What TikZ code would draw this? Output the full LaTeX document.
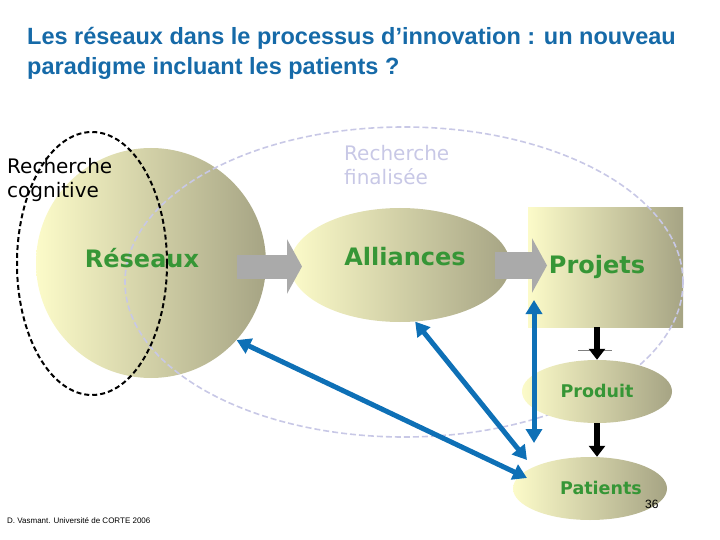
\documentclass[tikz,border=0pt]{standalone}
\usepackage{fontspec}
\setmainfont{Liberation Sans}
\newfontfamily\verdana{DejaVu Sans}
\usetikzlibrary{arrows.meta,shapes.geometric}
\definecolor{paleyellow}{RGB}{252,251,201}
\definecolor{olivegrey}{RGB}{166,164,132}
\definecolor{leafgreen}{RGB}{54,150,54}
\definecolor{titleblue}{RGB}{22,106,168}
\definecolor{linkblue}{RGB}{14,112,182}
\definecolor{lavender}{RGB}{200,200,230}
\definecolor{arrowgrey}{RGB}{170,170,170}

\begin{document}
\begin{tikzpicture}[x=1pt,y=-1pt,
    ball/.style={left color=paleyellow, right color=olivegrey, inner sep=0pt},
    bigword/.style={font=\verdana\bfseries\fontsize{24}{28}\selectfont, text=leafgreen, anchor=base, inner sep=0pt},
    smallword/.style={font=\verdana\bfseries\fontsize{17.5}{20}\selectfont, text=leafgreen, anchor=base, inner sep=0pt},
    sidenote/.style={font=\verdana\fontsize{20}{24}\selectfont, anchor=base west, align=left, inner sep=0pt},
    greyarrow/.style={arrowgrey, line width=#1, -{Triangle[length=15pt,width=54pt]}},
    linkarrow/.style={linkblue, line width=5pt, {Triangle[length=14pt,width=16pt]}-{Triangle[length=14pt,width=16pt]}},
    blackarrow/.style={black, line width=6pt, -{Triangle[length=11pt,width=16pt]}}]
            \useasboundingbox (0,0) rectangle (720,540);
            \node[ball, circle, minimum size=230pt]                      (reseaux)   at (151,263)     {};
            \node[ball, ellipse, minimum width=220pt, minimum height=114pt] (alliances) at (400,265)   {};
            \node[ball, rectangle, minimum width=155pt, minimum height=119pt] (projets) at (605.5,267.5) {};
            \draw[lavender, line width=1.6pt, dash pattern=on 6pt off 3pt] (404,282) ellipse (279 and 155);
            \node[ball, ellipse, minimum width=150pt, minimum height=63pt] (produit)  at (597,391.5)   {};
            \node[ball, ellipse, minimum width=154pt, minimum height=63pt] (patients) at (590,488.5)   {};
            \draw[black, line width=2pt, dash pattern=on 5pt off 3pt] (92,263.5) ellipse (75 and 131.5);

            \node[font=\bfseries\fontsize{23.5}{30}\selectfont, text=titleblue, anchor=base west, align=left, inner sep=0pt]
                 (titre) at (27,75) {Les réseaux dans le processus d’innovation : un nouveau\\paradigme incluant les patients ?};
            \node[sidenote]                  (cognitive) at (7,197)   {Recherche\\cognitive};
            \node[sidenote, text=lavender]   (finalisee) at (344,185) {Recherche\\finalisée};
            \node[bigword]   (t-reseaux)   at (142,267) {Réseaux};
            \node[bigword]   (t-alliances) at (405,265) {Alliances};
            \node[bigword]   (t-projets)   at (597,273) {Projets};
            \node[smallword] (t-produit)   at (597,397) {Produit};
            \node[smallword] (t-patients)  at (601,494) {Patients};
            \node[font=\fontsize{12}{14}\selectfont, anchor=base west, inner sep=0pt] (pagenum) at (645,508) {36};
            \node[font=\fontsize{8}{10}\selectfont, anchor=base west, inner sep=0pt] (credit) at (7,523) {D. Vasmant. Université de CORTE 2006};

            \coordinate (gs1) at (237,266.5);
            \coordinate (ge1) at (302,266.5);
            \coordinate (gs2) at (495,265.5);
            \coordinate (ge2) at (547,265.5);
            \draw[greyarrow=24pt] (gs1) -- (ge1);
            \draw[greyarrow=27pt] (gs2) -- (ge2);

            \coordinate (pat-a)  at (527,478);
            \coordinate (pat-b)  at (527,460);
            \coordinate (pat-c)  at (534,443);
            \coordinate (proj-b) at (534,300);
            \draw[linkarrow] (reseaux.-42)   -- (pat-a);
            \draw[linkarrow] (alliances.-75) -- (pat-b);
            \draw[linkarrow] (proj-b)        -- (pat-c);

            \draw[gray, line width=0.6pt] (578,350) -- (612,350);
            \draw[blackarrow] (projets.south -| produit.north) -- (produit.north);
            \draw[blackarrow] (produit.south) -- (patients.north -| produit.south);
            \end{tikzpicture}
\end{document}
